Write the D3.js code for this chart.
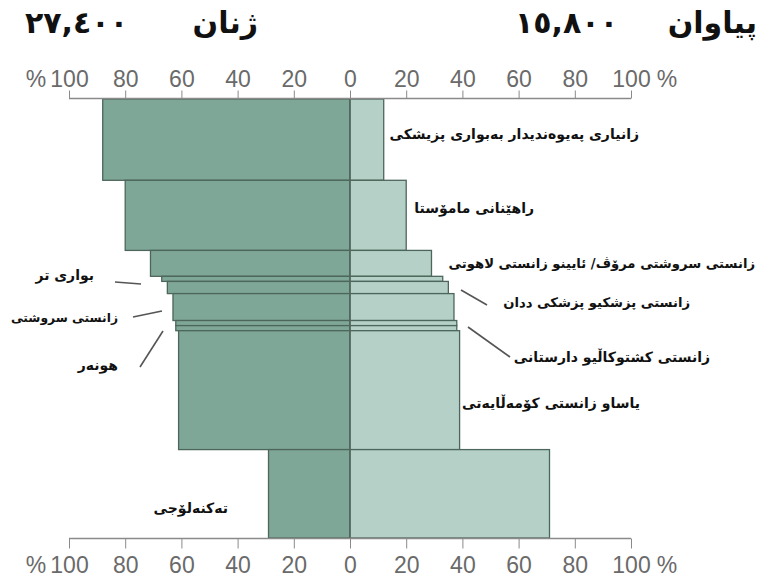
<!DOCTYPE html>
<html>
<head>
<meta charset="utf-8">
<script src="https://cdn.jsdelivr.net/npm/d3@7"></script>
<style>
  html, body { margin: 0; padding: 0; background: #ffffff; }
  svg { display: block; }
</style>
</head>
<body>
<div id="chart"></div>
<script>
// ---- data ----
const categories = [
  "زانیاری پەیوەندیدار بەبواری پزیشکی",
  "راهێنانی مامۆستا",
  "زانستی سروشتی مرۆڤ/ ئایینو زانستی لاهوتی",
  "بواری تر",
  "زانستی پزشکیو پزشکی ددان",
  "زانستی سروشتی",
  "زانستی کشتوکاڵیو دارستانی",
  "هونەر",
  "یاساو زانستی کۆمەڵایەتی",
  "تەکنەلۆجی"
];
// share of graduates (%) per subject
const womenPct = [88, 80, 71, 67, 65, 63, 62, 62, 61, 29];
const menPct   = [12, 20, 29, 33, 35, 37, 38, 38, 39, 71];
// total graduates per subject (bar thickness)
const graduates = [8000, 6900, 2550, 500, 1200, 2650, 500, 500, 11700, 8700];
const tickValues = [-100, -80, -60, -40, -20, 0, 20, 40, 60, 80, 100];
const womenTitle = "ژنان";
const womenTotal = "٢٧,٤٠٠";
const menTitle = "پیاوان";
const menTotal = "١٥,٨٠٠";

// ---- layout / style ----
const W = 762, H = 580;
const colWomen = "#7fa797", colMen = "#b5d1c7", colEdge = "#4d665b";
const axisGray = "#8a8a8a", textGray = "#6a6a6a";
const numFont = "'Liberation Sans Narrow', 'Liberation Sans', Arial, sans-serif";
const arFont = "'DejaVu Sans', sans-serif";

// label annotation layout
const labelLayout = [
  {i: 0, x: 639, dy: -6},
  {i: 1, x: 534, dy: -7},
  {i: 2, x: 755, dy: 0, size: 13.2},
  {i: 3, x: 94,  yAbs: 275, leader: [[115, 282], [141, 284]]},
  {i: 4, x: 690, yAbs: 302, size: 13.2, leader: [[461, 290], [487, 305]]},
  {i: 5, x: 118, yAbs: 318, size: 12.3, leader: [[133, 317], [162, 311]]},
  {i: 6, x: 710, yAbs: 357, leader: [[468, 327], [510, 357]]},
  {i: 7, x: 118, yAbs: 365, leader: [[140, 367], [163, 331]]},
  {i: 8, x: 640, dy: 13},
  {i: 9, x: 228, dy: 14}
];

const svg = d3.select("#chart").append("svg")
  .attr("width", W).attr("height", H);

const x = d3.scaleLinear().domain([-100, 100]).range([69, 631]);
const total = d3.sum(graduates);
const y = d3.scaleLinear().domain([0, total]).range([99, 538]);

const cum = [];
let acc = 0;
graduates.forEach((g, i) => { cum.push({i, start: acc, end: acc + g}); acc += g; });

// bars
const bars = svg.append("g");
bars.selectAll("rect.women").data(cum).join("rect")
  .attr("class", "women")
  .attr("x", d => x(-womenPct[d.i]))
  .attr("width", d => x(0) - x(-womenPct[d.i]))
  .attr("y", d => y(d.start))
  .attr("height", d => y(d.end) - y(d.start))
  .attr("fill", colWomen)
  .attr("stroke", colEdge).attr("stroke-width", 1.3);
bars.selectAll("rect.men").data(cum).join("rect")
  .attr("class", "men")
  .attr("x", x(0))
  .attr("width", d => x(menPct[d.i]) - x(0))
  .attr("y", d => y(d.start))
  .attr("height", d => y(d.end) - y(d.start))
  .attr("fill", colMen)
  .attr("stroke", colEdge).attr("stroke-width", 1.3);

// zero line
svg.append("line")
  .attr("x1", x(0)).attr("x2", x(0))
  .attr("y1", y(0)).attr("y2", y(total))
  .attr("stroke", "#55695f").attr("stroke-width", 1.4);

// axes
const fmt = d => String(Math.abs(d));
const topAxis = d3.axisTop(x).tickValues(tickValues).tickFormat(fmt).tickSize(8).tickPadding(6);
const botAxis = d3.axisBottom(x).tickValues(tickValues).tickFormat(fmt).tickSize(10).tickPadding(8);

function styleAxis(g) {
  g.select(".domain").attr("stroke", axisGray).attr("stroke-width", 1.3);
  g.selectAll(".tick line").attr("stroke", axisGray).attr("stroke-width", 1);
  g.selectAll(".tick text").attr("fill", textGray)
    .attr("font-family", numFont).attr("font-size", 23);
}
const gTop = svg.append("g").attr("transform", `translate(0,${y(0) - 0.5})`).call(topAxis);
styleAxis(gTop);
gTop.select(".domain").attr("d", `M${x(-100)},0H${x(100)}`);
const gBot = svg.append("g").attr("transform", `translate(0,${y(total) + 0.5})`).call(botAxis);
styleAxis(gBot);
gBot.select(".domain").attr("d", `M${x(-100)},0H${x(100)}`);
gTop.selectAll(".tick text").attr("dy", "0.1em");
gBot.selectAll(".tick text").attr("dy", "0.72em");

// percent signs, aligned with each axis' tick labels
[gTop, gBot].forEach(g => {
  const t = g.select(".tick text");
  const ty = +t.attr("y"), tdy = t.attr("dy");
  [x(-100) - 33, x(100) + 36].forEach(px => {
    g.append("text").attr("x", px).attr("y", ty).attr("dy", tdy)
      .attr("text-anchor", "middle").attr("fill", textGray)
      .attr("font-family", numFont).attr("font-size", 23).text("%");
  });
});

// titles
const titleG = svg.append("g").attr("font-family", arFont).attr("fill", "#111");
titleG.append("text").attr("x", 258).attr("y", 33).attr("text-anchor", "end")
  .attr("font-size", 30).attr("font-weight", "bold").text(womenTitle);
titleG.append("text").attr("x", 25).attr("y", 33).attr("text-anchor", "start")
  .attr("font-size", 30).attr("font-weight", "bold").attr("letter-spacing", 11).text(womenTotal);
titleG.append("text").attr("x", 757).attr("y", 33).attr("text-anchor", "end")
  .attr("font-size", 30).attr("font-weight", "bold").text(menTitle);
titleG.append("text").attr("x", 515).attr("y", 33).attr("text-anchor", "start")
  .attr("font-size", 30).attr("font-weight", "bold").attr("letter-spacing", 11).text(menTotal);

// category labels
const lab = svg.append("g").attr("font-family", arFont).attr("font-weight", "bold")
  .attr("font-size", 14).attr("fill", "#111");
labelLayout.forEach(L => {
  const c = cum[L.i];
  const yc = L.yAbs !== undefined ? L.yAbs : (y(c.start) + y(c.end)) / 2 + L.dy;
  const t = lab.append("text").attr("x", L.x).attr("y", yc).attr("dy", "0.35em")
    .attr("text-anchor", "end").text(categories[L.i]);
  if (L.size) t.attr("font-size", L.size);
  if (L.leader) {
    svg.append("line")
      .attr("x1", L.leader[0][0]).attr("y1", L.leader[0][1])
      .attr("x2", L.leader[1][0]).attr("y2", L.leader[1][1])
      .attr("stroke", "#555").attr("stroke-width", 1.6);
  }
});
</script>
</body>
</html>
